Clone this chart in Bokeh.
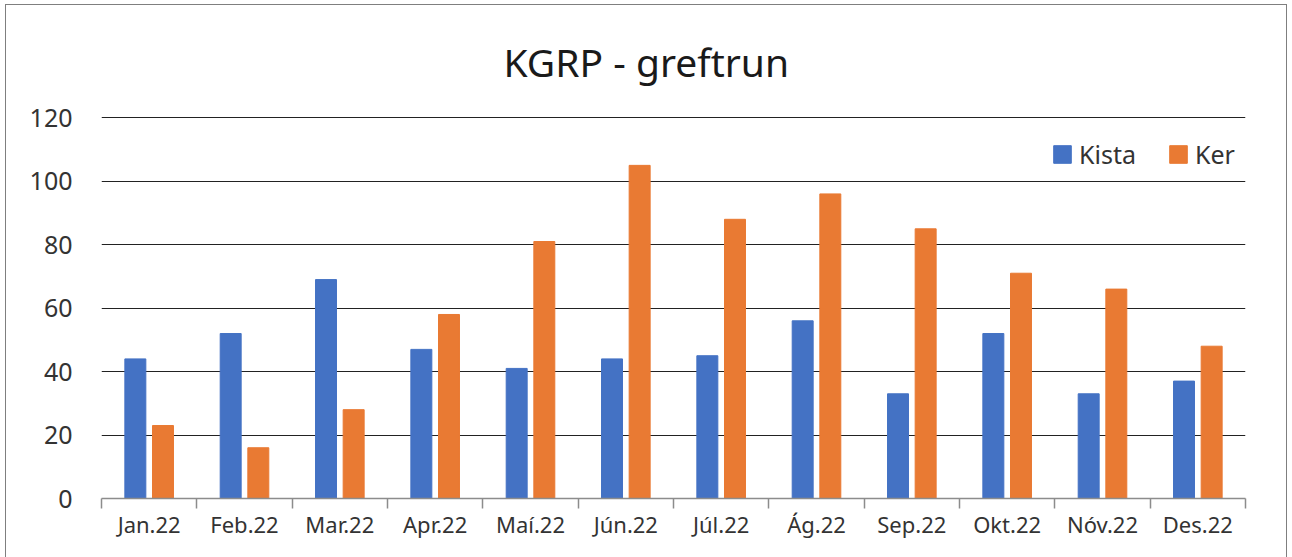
from bokeh.plotting import figure
from bokeh.models import FixedTicker, Range1d, Title
from bokeh.embed import file_html
from bokeh.resources import INLINE

months = ["Jan.22", "Feb.22", "Mar.22", "Apr.22", "Maí.22", "Jún.22",
          "Júl.22", "Ág.22", "Sep.22", "Okt.22", "Nóv.22", "Des.22"]
kista = [44, 52, 69, 47, 41, 44, 45, 56, 33, 52, 33, 37]
ker = [23, 16, 28, 58, 81, 105, 88, 96, 85, 71, 66, 48]
y_ticks = [0, 20, 40, 60, 80, 100, 120]

FONT = "Noto Sans"
BLUE = "#4472C4"
ORANGE = "#E97A33"

centers = [i + 0.5 for i in range(len(months))]

p = figure(width=1282, height=557, output_backend="svg", toolbar_location=None,
           x_range=Range1d(0, 12), y_range=Range1d(0, 120.4),
           min_border_left=95, min_border_right=43, min_border_top=111,
           min_border_bottom=64)
p.styles = {"border": "1.5px solid #7f7f7f", "margin-left": "5px",
            "margin-top": "4px"}
p.outline_line_color = None

w = 0.22
p.vbar(x=[c - 0.145 for c in centers], top=kista, width=w, color=BLUE,
       legend_label="Kista")
p.vbar(x=[c + 0.145 for c in centers], top=ker, width=w, color=ORANGE,
       legend_label="Ker")

title = Title(text="KGRP - greftrun", align="left", vertical_align="top",
              text_font=FONT, text_font_size="39px", text_font_style="normal",
              text_color="#1a1a1a", standoff=54, offset=402)
p.add_layout(title, "above")

# x axis
p.xaxis.ticker = FixedTicker(ticks=centers, minor_ticks=list(range(13)))
p.xaxis.major_label_overrides = {c: m for c, m in zip(centers, months)}
p.xaxis.major_tick_line_color = None
p.xaxis.major_tick_out = 0
p.xaxis.major_tick_in = 0
p.xaxis.minor_tick_out = 10
p.xaxis.minor_tick_in = 0
p.xaxis.minor_tick_line_color = "#8c8c8c"
p.xaxis.minor_tick_line_width = 1.5
p.xaxis.axis_line_color = "#8c8c8c"
p.xaxis.axis_line_width = 1.5
p.xaxis.major_label_text_font = FONT
p.xaxis.major_label_text_font_size = "22px"
p.xaxis.major_label_text_color = "#333333"
p.xaxis.major_label_standoff = 0

# y axis
p.yaxis.ticker = FixedTicker(ticks=y_ticks)
p.yaxis.axis_line_color = None
p.yaxis.major_tick_line_color = None
p.yaxis.minor_tick_line_color = None
p.yaxis.major_label_text_font = FONT
p.yaxis.major_label_text_font_size = "25px"
p.yaxis.major_label_text_color = "#333333"
p.yaxis.major_label_standoff = 23

p.xgrid.grid_line_color = None
p.ygrid.ticker = FixedTicker(ticks=y_ticks[1:])
p.ygrid.grid_line_color = "#222222"
p.ygrid.grid_line_width = 1

leg = p.legend[0]
leg.orientation = "horizontal"
leg.location = (950, 327)
leg.border_line_color = None
leg.background_fill_alpha = 0
leg.padding = 0
leg.margin = 0
leg.spacing = 31
leg.glyph_width = 22
leg.glyph_height = 22
leg.label_standoff = 6
leg.label_text_font = FONT
leg.label_text_font_size = "25px"
leg.label_text_color = "#333333"

open("out.html", "w").write(file_html(p, INLINE))
